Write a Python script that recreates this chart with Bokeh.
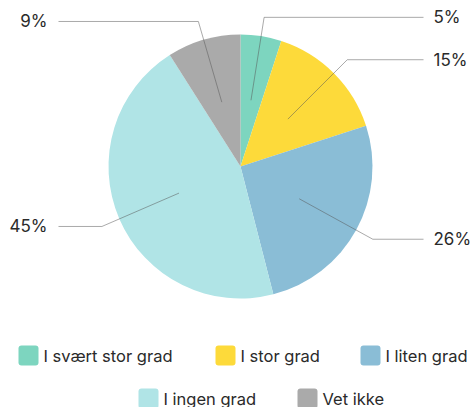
import math
from bokeh.plotting import figure
from bokeh.models import Range1d, ColumnDataSource
from bokeh.core.properties import value
from bokeh.embed import file_html
from bokeh.resources import INLINE

categories = ["I svært stor grad", "I stor grad", "I liten grad", "I ingen grad", "Vet ikke"]
percents = [5, 15, 26, 45, 9]
labels = ["5%", "15%", "26%", "45%", "9%"]
colors = ["#7dd5bf", "#fdda3a", "#8abdd6", "#b0e4e6", "#aaaaaa"]

W, H = 473, 407
p = figure(width=W, height=H, output_backend="svg", toolbar_location=None,
           x_range=Range1d(0, W), y_range=Range1d(0, H), min_border=0)
p.axis.visible = False
p.grid.visible = False
p.outline_line_color = None
p.background_fill_color = "white"

cx, cy, R = 240, H - 166, 132
total = sum(percents)
starts, ends, mids = [], [], []
cum = 0
for v in percents:
    a0 = math.pi / 2 - 2 * math.pi * cum / total
    cum += v
    a1 = math.pi / 2 - 2 * math.pi * cum / total
    starts.append(a0); ends.append(a1); mids.append((a0 + a1) / 2)

src = ColumnDataSource(dict(start=starts, end=ends, color=colors))
p.wedge(x=cx, y=cy, radius=R, start_angle="start", end_angle="end",
        direction="clock", fill_color="color", line_color=None, source=src)

# leader lines and labels
r_in, r_bend = 67, 151
xs, ys, tx, ty, ta, tl = [], [], [], [], [], []
for m, lab in zip(mids, labels):
    x0, y0 = cx + r_in * math.cos(m), cy + r_in * math.sin(m)
    x1, y1 = cx + r_bend * math.cos(m), cy + r_bend * math.sin(m)
    right = math.cos(m) >= 0
    x2 = 423 if right else 58
    xs.append([x0, x1, x2]); ys.append([y0, y1, y1])
    tx.append(433 if right else 47); ty.append(y1)
    ta.append("left" if right else "right"); tl.append(lab)
p.multi_line(xs, ys, line_color="#555555", line_alpha=0.5, line_width=1)
p.text(x=tx, y=ty, text=tl, text_align=ta, text_baseline="middle",
       text_font=value("Inter"), text_font_size="17px", text_color="#2a2a2a")

# legend
leg_x = [18, 215, 360, 138, 297]
leg_y = [H - 355, H - 355, H - 355, H - 398, H - 398]
sw = 20
p.quad(left=leg_x, right=[x + sw for x in leg_x],
       bottom=[y - sw / 2 for y in leg_y], top=[y + sw / 2 for y in leg_y],
       fill_color=colors, line_color=None, border_radius=3)
p.text(x=[x + 25 for x in leg_x], y=leg_y, text=categories, text_baseline="middle",
       text_font=value("Inter"), text_font_size="16.5px", text_color="#2a2a2a")

open("out.html", "w").write(file_html(p, INLINE))
